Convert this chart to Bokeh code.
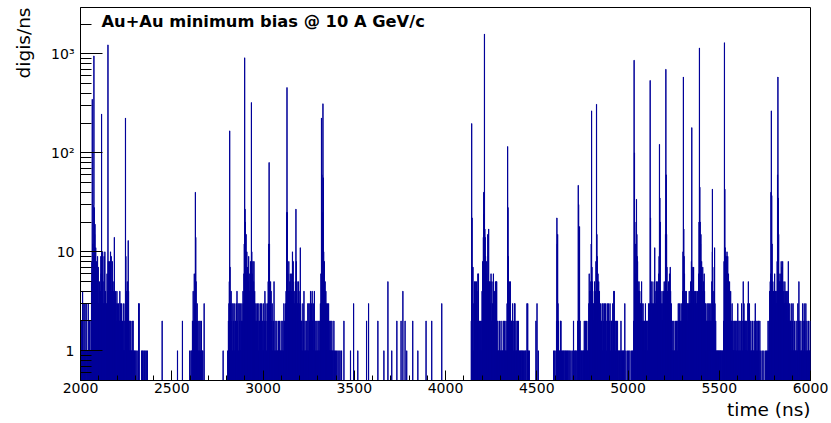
import numpy as np
from bokeh.plotting import figure
from bokeh.models import FixedTicker, Label, Range1d, Title
from bokeh.embed import file_html
from bokeh.resources import INLINE

# ---- data: non-empty 1 ns bins, (time in ns, digis in that ns) ----
hits_a = [(2001,1),(2004,2),(2007,1),(2011,4),(2014,1),(2018,3),(2021,1),(2024,3),(2027,1),(2031,3),
          (2035,1),(2039,1),(2042,3),(2045,1),(2048,2),(2051,1),(2054,1),(2057,2),(2060,5),(2062,8),
          (2064,348),(2066,12),(2068,6),(2070,9),(2072,30),(2073,955),(2075,28),(2077,15),(2079,19),(2081,7),
          (2083,11),(2085,4),(2087,8),(2089,6),(2091,2),(2093,9),(2095,3),(2097,7),(2099,2),(2101,3),
          (2103,5),(2105,3),(2107,2),(2109,4),(2111,9),(2113,6),(2115,247),(2117,6),(2119,3),(2121,10),
          (2123,5),(2125,3),(2127,2),(2129,9),(2131,3),(2133,10),(2135,2),(2137,4),(2139,3),(2141,2),
          (2143,3),(2145,6),(2148,4),(2150,1235),(2152,8),(2154,5),(2156,3),(2158,8),(2160,6),(2162,3),
          (2164,10),(2166,4),(2168,9),(2170,3),(2172,4),(2174,8),(2176,3),(2178,5),(2180,2),(2182,4),
          (2185,14),(2187,3),(2189,2),(2191,4),(2193,1),(2195,3),(2197,2),(2199,4),(2201,1),(2203,3),
          (2205,2),(2208,3),(2210,1),(2212,2),(2215,4),(2217,2),(2219,3),(2222,1),(2224,3),(2226,1),
          (2229,2),(2231,1),(2234,3),(2236,1),(2239,2),(2241,1),(2244,3),(2246,225),(2248,9),(2250,4),
          (2252,2),(2254,3),(2256,5),(2258,1),(2261,13),(2263,4),(2265,2),(2267,1),(2270,2),(2272,1),
          (2275,2),(2277,1),(2280,1),(2283,2),(2286,1),(2288,2),(2291,1),(2295,1),(2299,1),(2304,1),
          (2310,1),(2318,3),(2321,3),(2334,1),(2339,1),(2343,1),(2349,1),(2354,1),(2360,1),(2366,1),
          (2447,2),(2531,1),(2558,2),(2598,1)]

hits_b = [(2605,1),(2610,1),(2613,2),(2617,4),(2619,2),(2621,1),(2623,6),(2625,3),(2627,2),(2629,40),
          (2631,14),(2633,5),(2635,2),(2637,1),(2639,3),(2641,1),(2643,2),(2646,1),(2649,2),(2652,1),
          (2655,2),(2658,1),(2662,2),(2666,1),(2670,1),(2677,3),(2781,1)]

hits_c = [(2806,1),(2810,2),(2813,3),(2815,5),(2817,167),(2819,7),(2821,3),(2823,2),(2825,4),(2828,2),
          (2830,3),(2833,1),(2836,3),(2839,2),(2842,1),(2845,3),(2848,2),(2851,1),(2854,3),(2857,4),
          (2860,2),(2863,3),(2866,1),(2869,3),(2872,2),(2875,3),(2878,1),(2881,2),(2884,3),(2887,2),
          (2890,4),(2893,3),(2895,6),(2897,12),(2899,915),(2901,27),(2903,20),(2905,8),(2907,15),(2909,6),
          (2911,10),(2913,4),(2915,7),(2917,3),(2919,5),(2921,9),(2923,4),(2925,3),(2927,6),(2929,2),
          (2931,8),(2933,5),(2936,323),(2938,10),(2940,6),(2942,4),(2944,8),(2946,3),(2948,5),(2950,8),
          (2952,2),(2954,4),(2956,3),(2958,2),(2960,1),(2962,3),(2965,2),(2967,1),(2970,3),(2972,2),
          (2975,1),(2977,3),(2980,2),(2983,1),(2986,3),(2989,2),(2992,3),(2995,1),(2998,2),(3001,3),
          (3004,1),(3007,2),(3010,4),(3013,2),(3016,3),(3019,1),(3022,2),(3025,3),(3028,5),(3031,12),
          (3033,80),(3035,12),(3037,4),(3039,3),(3041,5),(3044,4),(3047,2),(3050,3),(3053,1),(3056,2),
          (3060,5),(3063,1),(3066,2),(3069,1),(3072,1),(3075,2),(3078,1),(3081,1),(3084,2),(3087,1),
          (3090,2),(3093,1),(3096,1),(3099,2),(3102,1),(3105,1),(3108,2),(3111,1),(3114,3),(3117,2),
          (3120,1),(3123,3),(3126,4),(3129,25),(3131,458),(3133,25),(3135,6),(3137,4),(3139,3),(3141,8),
          (3143,4),(3145,3),(3147,5),(3149,6),(3151,4),(3153,3),(3155,4),(3157,6),(3159,3),(3161,10),
          (3163,5),(3165,8),(3167,3),(3169,4),(3171,2),(3173,3),(3175,4),(3177,5),(3180,27),(3182,8),
          (3184,4),(3186,5),(3188,3),(3190,2),(3192,3),(3194,5),(3196,2),(3198,3),(3200,2),(3202,4),
          (3204,11),(3206,3),(3208,2),(3210,1),(3212,2),(3215,1),(3218,3),(3221,2),(3224,4),(3227,1),
          (3230,2),(3233,1),(3236,1),(3239,2),(3242,1),(3245,3),(3248,1),(3251,3),(3254,2),(3257,3),
          (3260,4),(3263,2),(3266,3),(3269,4),(3272,2),(3275,3),(3278,1),(3281,4),(3284,2),(3287,1),
          (3290,2),(3293,1),(3296,2),(3299,1),(3302,1),(3305,2),(3308,1),(3311,2),(3314,3),(3317,6),
          (3320,225),(3322,60),(3324,25),(3326,12),(3328,314),(3330,56),(3332,10),(3334,5),(3336,8),(3338,4),
          (3340,5),(3342,3),(3344,4),(3346,2),(3348,3),(3350,1),(3353,3),(3356,2),(3359,3),(3362,1),
          (3365,2),(3368,1),(3371,2),(3374,1),(3377,2),(3380,1),(3384,1),(3388,2),(3392,1),(3397,1),
          (3403,1),(3410,1),(3416,1),(3422,1),(3430,1),(3443,2),
          (3479,1),(3496,3),(3519,1),(3567,2),(3578,3),(3629,2),(3662,1),(3684,5),(3705,1),(3733,2),
          (3756,2),(3766,4),(3778,2),(3787,1),(3820,2),(3848,1),(3893,2),(3924,2),(3979,3)]

hits_d = [(4141,2),(4143,198),(4145,22),(4147,7),(4150,7),(4152,1),(4155,3),(4158,5),(4160,2),(4163,5),
          (4166,3),(4169,5),(4172,4),(4175,2),(4177,6),(4180,6),(4183,1),(4186,2),(4189,1),(4192,2),
          (4195,1),(4198,2),(4200,4),(4203,8),(4205,3),(4207,14),(4209,40),(4211,24),(4213,1590),(4215,17),
          (4217,14),(4219,9),(4221,6),(4223,4),(4225,8),(4227,3),(4229,5),(4231,15),(4233,4),(4236,17),
          (4238,3),(4240,5),(4242,2),(4244,5),(4246,3),(4249,6),(4251,2),(4254,5),(4257,3),(4260,2),
          (4262,6),(4264,3),(4267,4),(4270,2),(4273,5),(4276,3),(4278,5),(4280,5),(4283,1),(4286,2),
          (4289,1),(4292,1),(4295,2),(4298,1),(4301,1),(4304,2),(4307,1),(4310,1),(4313,1),(4316,2),
          (4319,1),(4322,2),(4325,1),(4328,1),(4331,2),(4334,1),(4337,3),(4340,116),(4342,28),(4344,9),
          (4346,4),(4349,5),(4351,2),(4353,3),(4355,5),(4358,1),(4360,2),(4362,2),(4365,1),(4367,3),
          (4369,2),(4372,1),(4375,2),(4377,3),(4380,3),(4383,1),(4386,2),(4388,1),(4391,1),(4394,2),
          (4397,1),(4399,2),(4402,1),(4406,1),(4410,1),(4414,1),(4418,1),(4422,1),(4426,1),(4431,1),
          (4436,1),(4440,1),(4446,3),(4450,3),(4454,1),(4459,1),(4495,2),(4501,3),(4508,1)]

hits_e = [(4592,1),(4598,1),(4605,1),(4608,2),(4610,22),(4612,12),(4614,15),(4616,3),(4619,2),(4623,1),
          (4627,1),(4630,2),(4632,2),(4636,1),(4641,1),(4645,1),(4649,1),(4654,1),(4658,1),(4662,1),
          (4667,1),(4671,1),(4676,1),(4681,1),(4687,1),(4694,1),(4701,2),(4705,1),(4710,1),(4714,1),
          (4719,1),(4724,2),(4727,47),(4729,30),(4731,15),(4734,18),(4737,2),(4741,1),(4745,1),(4749,1),
          (4754,1),(4757,1),(4760,2),(4764,1),(4767,2),(4770,1),(4773,2),(4776,1),(4779,1),(4782,2),
          (4785,3),(4787,6),(4789,4),(4791,3),(4794,4),(4796,5),(4798,12),(4800,266),(4802,7),(4804,5),
          (4806,4),(4808,3),(4810,2),(4812,3),(4814,2),(4816,5),(4818,3),(4820,4),(4822,2),(4824,8),
          (4827,310),(4829,15),(4831,9),(4833,5),(4835,6),(4837,4),(4839,5),(4841,3),(4843,4),(4845,2),
          (4847,1),(4849,3),(4851,2),(4853,1),(4855,2),(4858,3),(4860,1),(4863,3),(4866,2),(4868,1),
          (4871,3),(4874,1),(4877,3),(4880,2),(4883,1),(4886,3),(4889,2),(4892,3),(4895,1),(4898,2),
          (4901,3),(4904,1),(4907,2),(4910,2),(4913,1),(4916,3),(4919,2),(4922,4),(4924,4),(4927,2),
          (4930,1),(4933,2),(4936,2),(4939,1),(4942,2),(4945,1),(4949,1),(4953,1),(4957,1),(4961,2),
          (4965,1),(4970,1),(4974,1),(4978,1),(4982,3),(4988,1),(4996,1),(5003,1),(5010,1),(5018,1),
          (5025,1),(5028,1),(5031,2),(5033,865),(5035,100),(5037,20),(5040,5),(5042,12),(5044,6),(5046,34),
          (5048,15),(5050,9),(5052,8),(5054,5),(5056,3),(5058,4),(5060,5),(5062,2),(5064,4),(5066,3),
          (5068,2),(5070,3),(5072,1),(5074,5),(5076,3),(5078,1),(5080,2),(5082,3),(5084,1),(5086,2),
          (5089,2),(5092,1),(5095,3),(5098,1),(5101,2),(5104,2),(5106,1),(5109,2),(5112,3),(5115,2),
          (5118,3),(5121,540),(5123,22),(5125,5),(5127,3),(5129,2),(5131,5),(5134,3),(5137,2),(5140,3),
          (5143,5),(5146,11),(5148,4),(5150,2),(5152,3),(5155,5),(5157,3),(5160,5),(5162,2),(5164,4),
          (5166,3),(5168,6),(5170,9),(5172,122),(5174,35),(5176,20),(5178,4),(5180,1),(5182,3),(5184,2),
          (5186,4),(5188,2),(5190,3),(5192,2),(5194,4),(5196,3),(5198,5),(5200,2),(5202,4),(5205,15),
          (5207,700),(5209,60),(5211,15),(5213,7),(5215,4),(5217,3),(5219,4),(5221,5),(5223,3),(5225,2),
          (5227,6),(5229,3),(5231,7),(5233,4),(5235,2),(5237,3),(5239,2),(5242,1),(5245,2),(5248,1),
          (5251,2),(5254,1),(5257,1),(5260,2),(5263,1),(5266,2),(5269,2),(5272,1),(5275,3),(5278,2),
          (5281,3),(5284,1),(5287,2),(5290,3),(5293,2),(5296,3),(5299,4),(5301,10),(5303,585),(5305,17),
          (5307,9),(5309,6),(5311,3),(5313,4),(5315,2),(5317,3),(5319,4),(5321,2),(5323,3),(5325,2),
          (5327,3),(5329,1),(5331,3),(5333,2),(5335,4),(5337,3),(5339,2),(5341,3),(5343,5),(5345,3),
          (5347,8),(5349,180),(5351,7),(5353,3),(5355,4),(5357,2),(5359,7),(5361,3),(5363,4),(5365,2),
          (5367,1),(5369,4),(5371,2),(5373,4),(5375,3),(5377,2),(5379,3),(5381,4),(5383,2),(5385,3),
          (5387,6),(5389,20),(5391,1150),(5393,45),(5395,20),(5397,12),(5399,15),(5401,5),(5403,8),(5405,4),
          (5407,3),(5409,7),(5411,4),(5413,5),(5415,3),(5417,6),(5419,4),(5421,3),(5423,2),(5425,3),
          (5427,2),(5429,1),(5431,2),(5433,3),(5435,1),(5437,2),(5439,3),(5441,2),(5443,1),(5445,3),
          (5447,2),(5449,1),(5451,2),(5453,3),(5455,2),(5457,1),(5459,5),(5461,10),(5462,43),(5464,7),
          (5466,3),(5468,2),(5470,4),(5472,2),(5474,11),(5476,3),(5478,1),(5480,2),(5483,1),(5486,1),
          (5489,1),(5492,1),(5495,1),(5498,1),(5501,1),(5504,1),(5507,1),(5510,1),(5514,1),(5518,1),
          (5521,1),(5524,2),(5526,8),(5528,1300),(5530,43),(5532,11),(5534,9),(5536,8),(5538,9),(5540,6),
          (5542,10),(5544,7),(5546,9),(5548,5),(5550,6),(5552,3),(5554,4),(5556,5),(5558,3),(5560,2),
          (5562,4),(5564,2),(5566,1),(5568,2),(5570,3),(5572,1),(5574,2),(5576,1),(5578,1),(5580,2),
          (5582,1),(5585,2),(5587,1),(5590,2),(5593,1),(5596,2),(5598,1),(5601,3),(5604,1),(5607,2),
          (5610,1),(5613,2),(5616,1),(5619,2),(5622,3),(5625,2),(5628,1),(5631,5),(5633,2),(5635,3),
          (5637,2),(5639,1),(5641,2),(5643,1),(5645,2),(5647,1),(5650,2),(5653,1),(5656,3),(5659,5),
          (5661,2),(5663,1),(5665,3),(5667,2),(5670,1),(5673,2),(5676,1),(5679,1),(5682,2),(5685,1),
          (5688,1),(5691,2),(5694,1),(5697,3),(5700,2),(5703,1),(5706,2),(5709,1),(5712,2),(5715,2),
          (5718,1),(5722,2),(5727,1),(5735,1),(5744,1),(5753,1),(5759,1),(5763,1),(5767,2),(5770,1),
          (5773,2),(5776,4),(5779,5),(5781,6),(5783,40),(5785,266),(5787,37),(5789,12),(5791,4),(5793,5),
          (5795,3),(5797,4),(5799,3),(5801,4),(5803,6),(5805,4),(5807,2),(5809,4),(5811,3),(5813,2),
          (5815,4),(5817,8),(5819,60),(5821,585),(5823,35),(5825,15),(5827,6),(5829,5),(5831,3),(5833,5),
          (5835,4),(5837,6),(5839,8),(5841,5),(5843,7),(5845,4),(5847,8),(5849,5),(5851,3),(5853,4),
          (5855,2),(5857,3),(5859,5),(5861,4),(5863,2),(5865,3),(5867,4),(5869,2),(5871,3),(5873,2),
          (5875,4),(5878,8),(5880,3),(5882,2),(5884,1),(5886,3),(5888,2),(5890,1),(5892,2),(5894,1),
          (5897,3),(5899,1),(5902,2),(5904,3),(5906,1),(5909,1),(5912,2),(5915,1),(5918,1),(5921,2),
          (5924,1),(5927,1),(5930,3),(5933,2),(5936,5),(5938,2),(5941,1),(5944,1),(5947,2),(5950,1),
          (5953,1),(5956,3),(5959,2),(5962,1),(5965,3),(5968,2),(5971,1),(5974,3),(5977,1),(5980,2),
          (5983,1),(5986,1),(5989,2),(5992,1),(5995,1),(5998,2)]

t_start, t_end = 2000, 6000
x_ticks = [2000, 2500, 3000, 3500, 4000, 4500, 5000, 5500, 6000]
y_ticks = [1, 10, 100, 1000]
y_tick_labels = {1: "1", 10: "10", 100: "10\u00b2", 1000: "10\u00b3"}
y_min, y_max = 0.5, 2950

# ---- histogram (1 ns bins) ----
counts = np.zeros(t_end - t_start)
for t, v in hits_a + hits_b + hits_c + hits_d + hits_e:
    counts[t - t_start] = v
FLOOR = 0.05  # empty bins fall below the visible range (log scale)
edges = np.arange(t_start, t_end + 1)
ys = np.append(np.where(counts > 0, counts, FLOOR), FLOOR)

FONT = "DejaVu Sans"
p = figure(width=828, height=423, x_range=Range1d(t_start, t_end), y_range=Range1d(y_min, y_max),
           y_axis_type="log", output_backend="svg", toolbar_location=None,
           min_border_left=79, min_border_right=18, min_border_top=7, min_border_bottom=43)
p.background_fill_color = "white"
p.border_fill_color = "white"
p.outline_line_color = "black"
p.outline_line_width = 1
p.xgrid.visible = False
p.ygrid.visible = False

p.step(edges, ys, mode="after", line_color="#000099", line_width=1)

# x axis
p.xaxis.ticker = FixedTicker(ticks=x_ticks, minor_ticks=list(range(t_start, t_end + 1, 100)))
p.xaxis.major_tick_in = 10
p.xaxis.major_tick_out = 0
p.xaxis.minor_tick_in = 5
p.xaxis.minor_tick_out = 0
p.xaxis.major_label_standoff = 2
# y axis
minor_y = [0.6, 0.7, 0.8, 0.9] + [m * d for d in (1, 10, 100) for m in range(2, 10)] + [2000]
p.yaxis.ticker = FixedTicker(ticks=y_ticks, minor_ticks=minor_y)
p.yaxis.major_label_overrides = y_tick_labels
p.yaxis.major_tick_in = 22
p.yaxis.major_tick_out = 0
p.yaxis.minor_tick_in = 11
p.yaxis.minor_tick_out = 0
p.yaxis.major_label_standoff = 6
for ax in (p.xaxis, p.yaxis):
    ax.axis_line_color = "black"
    ax.major_tick_line_color = "black"
    ax.minor_tick_line_color = "black"
    ax.major_label_text_font = FONT
    ax.major_label_text_font_size = "14px"
    ax.major_label_text_color = "black"

p.add_layout(Label(x=2115, y=2120, text="Au+Au minimum bias @ 10 A GeV/c", text_font=FONT,
                   text_font_style="bold", text_font_size="16.3px", text_baseline="middle",
                   text_color="black"))
p.add_layout(Title(text="time (ns)", align="right", text_font=FONT, text_font_style="normal",
                   text_font_size="18.5px", text_color="black", standoff=3), "below")
p.add_layout(Title(text="digis/ns", align="right", vertical_align="top", text_font=FONT,
                   text_font_style="normal", text_font_size="18.5px", text_color="black",
                   standoff=25), "left")

open("out.html", "w").write(file_html(p, INLINE))
